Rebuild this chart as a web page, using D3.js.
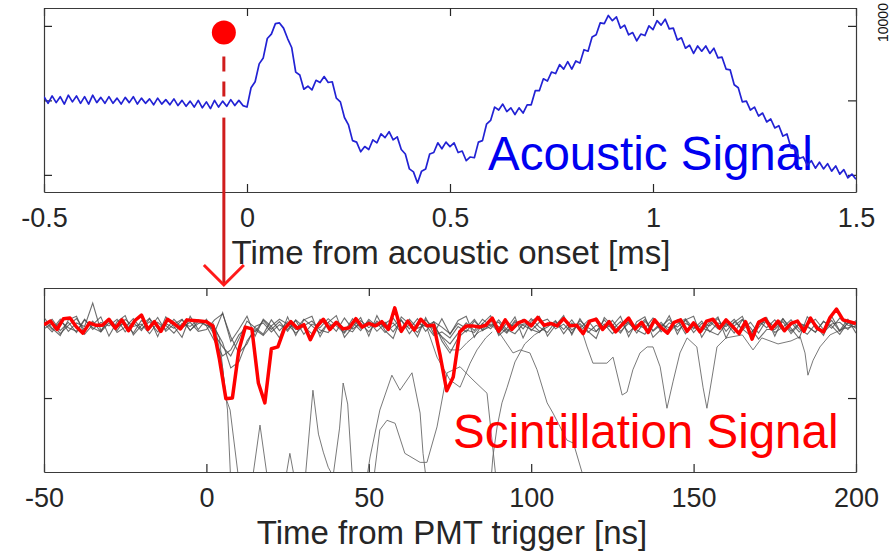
<!DOCTYPE html>
<html>
<head>
<meta charset="utf-8">
<script src="https://cdn.jsdelivr.net/npm/d3@7"></script>
<style>
body { margin: 0; background: #fff; }
text { font-family: "Liberation Sans", Arial, Helvetica, sans-serif; }
</style>
</head>
<body>
<div id="chart"></div>
<script>
// ---- top panel: acoustic signal, one value every 0.01 ms from -0.5 to 1.5 ms
const acousticStart = -0.5, acousticStep = 0.01;
const acoustic = [
  0.05,-0.04,0.06,-0.03,0.05,-0.05,0.07,-0.02,0.06,-0.04,
  0.05,-0.05,0.07,-0.03,0.04,-0.04,0.05,-0.04,0.03,-0.05,
  0.04,-0.03,0.05,-0.05,0.03,-0.04,0.02,-0.06,0.03,-0.05,
  0.01,-0.06,0.02,-0.07,0.0,-0.08,-0.01,-0.09,0.0,-0.10,
  -0.02,-0.11,0.0,-0.09,-0.01,-0.08,0.01,-0.07,0.0,-0.07,
  -0.09,0.17,0.25,0.49,0.57,0.83,0.89,1.03,1.04,0.97,
  0.83,0.71,0.38,0.34,0.15,0.19,0.14,0.27,0.24,0.32,
  0.24,0.25,0.03,-0.02,-0.23,-0.33,-0.54,-0.56,-0.69,-0.62,
  -0.66,-0.53,-0.57,-0.45,-0.50,-0.42,-0.53,-0.49,-0.66,-0.72,
  -0.92,-0.96,-1.11,-0.95,-0.92,-0.72,-0.70,-0.57,-0.65,-0.56,
  -0.62,-0.57,-0.70,-0.68,-0.81,-0.76,-0.77,-0.56,-0.54,-0.32,
  -0.27,-0.09,-0.13,-0.05,-0.15,-0.10,-0.19,-0.10,-0.17,-0.06,
  -0.06,0.13,0.13,0.29,0.26,0.38,0.36,0.48,0.42,0.52,
  0.42,0.53,0.50,0.68,0.66,0.85,0.88,1.04,1.03,1.14,
  1.07,1.12,0.97,1.01,0.88,0.91,0.80,0.89,0.87,1.00,
  0.95,1.07,1.01,1.09,0.96,0.97,0.81,0.84,0.70,0.74,
  0.63,0.73,0.66,0.73,0.63,0.70,0.57,0.58,0.42,0.41,
  0.21,0.17,-0.02,-0.01,-0.13,-0.09,-0.21,-0.17,-0.29,-0.25,
  -0.37,-0.34,-0.48,-0.45,-0.64,-0.65,-0.78,-0.76,-0.87,-0.81,
  -0.91,-0.83,-0.92,-0.85,-0.95,-0.88,-0.99,-0.93,-1.04,-0.99,-1.06
];
const topXTicks = [-0.5, 0, 0.5, 1, 1.5];
const topYTicks = [-1, 0, 1];
const onsetMarker = [-0.057, 0.91];   // red dot (time, level)

// ---- bottom panel: PMT traces
// red trace, one value every 2 ns from -50 to 200 ns
const redStart = -50, redStep = 2;
const redTrace = [
  -7.8,-7.2,-8.6,-6.8,-6.7,-8.2,-9.2,-7.5,-7.9,-7.9,
  -6.9,-8.4,-7.0,-8.8,-7.1,-6.2,-8.6,-7.3,-8.9,-6.9,
  -7.6,-8.5,-7.0,-7.1,-7.2,-7.3,
  -8.0,-13.5,-20.1,-20.0,-12.0,-8.2,-8.5,-17.5,-20.8,-11.8,
  -11.5,-8.5,-7.3,-8.4,-7.8,-10.3,-8.1,-6.9,-8.6,-7.4,
  -8.5,-8.3,-6.8,-8.2,-7.6,-8.0,-7.3,-8.6,-5.0,-8.9,
  -7.2,-8.7,-6.9,-8.0,-7.9,-13.0,-18.8,-16.5,-9.0,-8.0,
  -8.0,-8.2,-7.9,-6.7,-8.9,-7.0,-8.6,-7.5,-7.1,-8.0,
  -6.6,-7.9,-7.6,-8.0,-6.8,-8.0,-7.9,-9.3,-7.2,-6.9,
  -8.6,-7.3,-9.0,-7.8,-6.7,-8.5,-7.4,-9.1,-7.0,-8.3,
  -9.2,-7.4,-7.0,-8.9,-7.5,-9.0,-7.2,-6.9,-8.4,-7.0,
  -8.1,-9.3,-7.3,-10.2,-7.4,-6.8,-8.5,-7.2,-8.8,-7.6,
  -7.2,-8.9,-6.7,-8.4,-9.0,-6.6,-5.2,-7.0,-7.3,-7.6
];

// grey baseline traces, one value every 2.5 ns from -50 to 200 ns
const greyStart = -50, greyStep = 2.5;
const greyA = [
  -8.0,-6.9,-8.8,-7.4,-9.1,-7.0,-8.3,-9.0,-6.8,-8.2,
  -7.5,-9.2,-7.1,-8.4,-6.6,-8.9,-7.7,-6.9,-8.8,-7.2,
  -8.0,-10.5,-13.0,-12.0,-9.5,-8.2,-9.0,-7.1,-8.6,-7.3,
  -8.9,-7.0,-8.2,-9.3,-6.9,-8.1,-7.5,-9.0,-6.8,-8.4,
  -7.2,-8.9,-7.6,-6.7,-8.6,-7.9,-9.1,-7.0,-8.3,-9.8,
  -11.0,-9.2,-7.5,-8.8,-6.9,-8.0,-7.4,-9.0,-7.1,-8.5,
  -6.8,-8.2,-9.1,-7.3,-8.6,-7.0,-8.9,-7.6,-6.7,-8.4,
  -7.8,-9.2,-7.1,-8.3,-6.9,-8.8,-7.4,-9.0,-7.7,-6.8,
  -8.5,-7.2,-9.0,-7.5,-8.1,-6.9,-8.7,-7.4,-9.2,-7.0,
  -8.3,-6.8,-8.9,-7.6,-8.0,-9.1,-7.2,-8.4,-6.7,-7.9,-8.2
];
const greyB = [
  -7.2,-8.6,-6.9,-8.9,-7.5,-8.1,-4.2,-8.8,-7.0,-9.1,
  -8.2,-6.8,-8.5,-7.3,-9.0,-7.6,-8.4,-7.0,-8.7,-7.6,
  -7.4,-9.5,-11.5,-13.0,-10.2,-7.2,-8.3,-9.4,-7.0,-8.8,
  -7.3,-8.6,-6.9,-8.0,-9.2,-7.4,-8.9,-6.7,-8.5,-7.6,
  -9.0,-7.2,-8.3,-7.5,-9.1,-6.9,-8.4,-7.8,-9.6,-9.0,
  -10.0,-8.1,-9.0,-7.2,-8.6,-7.0,-9.3,-7.5,-8.2,-6.9,
  -8.8,-7.4,-6.9,-8.5,-7.7,-9.2,-7.1,-8.3,-9.0,-7.0,
  -8.6,-7.3,-9.1,-7.8,-8.4,-6.7,-9.0,-7.5,-8.2,-7.0,
  -9.1,-7.6,-8.0,-6.8,-8.9,-7.3,-8.5,-9.6,-7.2,-8.3,
  -7.0,-8.8,-7.4,-9.0,-7.8,-6.9,-8.6,-7.1,-8.9,-7.5,-8.4
];
const greyC = [
  -8.5,-7.6,-9.3,-7.9,-6.8,-8.7,-7.2,-9.0,-7.5,-8.8,
  -6.9,-8.1,-7.7,-9.3,-7.4,-8.6,-6.9,-8.3,-7.4,-8.9,
  -8.6,-7.0,-6.0,-9.8,-12.5,-11.0,-8.1,-7.5,-9.0,-7.8,
  -8.6,-7.1,-9.4,-7.7,-8.3,-6.8,-8.0,-9.2,-7.4,-8.8,
  -6.9,-8.1,-7.4,-9.0,-7.1,-8.5,-6.8,-8.9,-7.3,-8.2,
  -9.3,-7.6,-8.4,-6.9,-8.8,-7.7,-8.1,-9.2,-7.4,-7.9,
  -8.6,-9.1,-7.5,-8.0,-6.9,-8.7,-7.6,-9.1,-7.9,-8.5,
  -7.1,-8.9,-7.6,-8.7,-9.4,-7.2,-8.1,-6.9,-8.8,-7.6,
  -8.2,-9.0,-7.3,-8.5,-7.5,-9.2,-7.0,-8.3,-10.2,-8.6,
  -8.6,-7.3,-9.3,-7.7,-8.2,-9.0,-7.3,-8.0,-9.4,-7.4,-7.9
];
const greyD = [
  -7.6,-9.0,-7.2,-8.3,-8.9,-6.9,-8.6,-7.4,-8.0,-6.9,
  -9.0,-7.4,-8.8,-6.8,-8.3,-7.9,-9.2,-7.6,-8.1,-7.0,
  -7.9,-8.4,-10.8,-15.0,-14.0,-10.5,-8.6,-9.6,-8.0,-6.9,
  -7.7,-9.2,-8.0,-7.2,-8.7,-9.1,-7.3,-8.4,-9.0,-7.1,
  -8.3,-7.5,-9.1,-8.0,-7.0,-9.3,-7.6,-8.1,-7.3,-10.5,
  -12.5,-10.0,-8.7,-9.1,-7.6,-8.5,-7.0,-8.6,-9.3,-7.7,
  -7.6,-8.9,-8.2,-7.1,-9.3,-7.5,-8.4,-7.1,-8.9,-7.7,
  -9.3,-8.0,-7.4,-9.2,-7.2,-8.9,-7.8,-8.3,-7.0,-9.3,
  -7.6,-8.3,-8.9,-9.5,-7.7,-8.0,-6.9,-9.2,-7.8,-7.2,
  -9.1,-8.2,-7.0,-8.5,-9.4,-7.7,-9.1,-7.7,-7.4,-8.6,-7.1
];
const greyE = [
  -6.6,-8.4,-9.6,-7.0,-6.4,-9.4,-7.8,-6.5,-9.7,-7.3,
  -6.3,-9.5,-7.9,-6.7,-9.8,-6.5,-8.1,-9.9,-6.4,-8.6,
  -6.9,-9.1,-5.8,-10.6,-8.6,-6.4,-9.7,-6.9,-8.1,-10.0,
  -6.5,-9.6,-7.0,-6.4,-9.8,-7.4,-6.3,-9.9,-8.2,-6.6,
  -9.7,-6.3,-8.8,-10.1,-6.5,-7.7,-9.8,-6.6,-9.3,-6.8,
  -9.4,-7.1,-6.4,-9.9,-7.6,-6.3,-9.6,-8.4,-6.5,-10.0,
  -7.2,-6.4,-9.7,-7.9,-6.3,-9.5,-6.8,-8.9,-10.1,-6.6,
  -8.0,-6.4,-9.8,-7.3,-6.5,-9.9,-8.6,-6.3,-9.4,-7.0,
  -6.4,-9.9,-7.7,-6.5,-10.0,-7.4,-6.4,-9.6,-8.3,-6.6,
  -9.7,-6.8,-8.4,-10.1,-6.5,-7.9,-9.6,-6.4,-8.8,-6.9,-9.2
];

// grey traces with large excursions, as [time ns, level] pairs
const burstA = [[0,-7.8],[3,-9],[5,-15],[6.5,-22],[8,-40],[12,-42],[14.3,-33],[16.5,-24.5],[18.7,-33],
  [21,-40],[24.5,-33],[25.7,-29.2],[27,-33],[30,-36],[32.8,-18.7],[34.5,-26],[36,-29],[37.5,-31.5],
  [39,-33],[41,-25],[42.1,-17.5],[43.5,-21],[44.8,-32],[47,-38],[50,-40]];
const burstB = [[2,-7.5],[4,-10],[6,-20],[7.3,-22],[9.7,-32.5],[11,-38],[30,-42],[48,-38],[50.4,-29.8],
  [53.4,-22],[57.1,-16.2],[59.6,-18.7],[63.3,-15.8],[65.8,-22.5],[66.7,-29.2],[68,-35],[70,-40]];
const burstC = [[50,-40],[53.4,-25.3],[55.6,-23.7],[58.1,-24.2],[61.1,-29.2],[65.8,-30.7],[67.9,-30.7],
  [71,-24.8],[74.1,-15.8],[78.1,-14.8],[82.1,-17],[86.4,-19.2],[88.9,-32],[90,-38]];
const burstD = [[86,-45],[88.2,-29.8],[89.5,-24.8],[91,-20.8],[92.6,-18.2],[95,-14],[98,-11],[101,-9.5],[104,-8.5]];
const burstE = [[88,-8],[90,-9],[94.4,-12.5],[96.6,-12],[99.6,-12.5],[101.8,-15.3],[104.9,-20.8],
  [106.7,-22.5],[108.9,-24.8],[111,-27],[113,-27.5],[116,-33],[118,-38]];
const burstF = [[68,-8],[71,-8.7],[75,-12],[78.1,-12],[80.2,-10.8],[84,-9],[88,-8]];
const burstG = [[68,-8.5],[71,-13.2],[75,-17],[78.1,-18.2],[81.2,-14.2],[83.3,-12],[86,-10],[88,-9]];
const burstH = [[115,-7.8],[117.2,-11.5],[119,-14.2],[123.3,-14.2],[125.2,-13.2],[128,-19.5],[129.5,-19],
  [131.3,-15.3],[133.5,-12.5],[135.7,-11.5],[137.5,-11.5],[139.7,-14.8],[141.8,-21.7],[143.7,-17.2],
  [145.8,-12.5],[148,-10],[151,-11.5],[152.9,-18.2],[154.1,-21.7],[155.7,-16.5],[157.2,-11.5],[160,-10],
  [165,-9.5],[168.3,-12],[171,-10],[176,-11],[180,-10.5],[182.8,-9.8],[184.3,-12.5],[185.2,-16.2],
  [186.8,-13.7],[188.9,-11.5],[192,-9.5],[196,-8.5],[200,-8]];

const botXTicks = [-50, 0, 50, 100, 150, 200];
const botYTicks = [-20];

// ---- layout
const W = 892, H = 555;
const svg = d3.select("#chart").append("svg")
    .attr("width", W)
    .attr("height", H);

const xTop = d3.scaleLinear().domain([-0.5, 1.5]).range([44, 856]);
const yTop = d3.scaleLinear().domain([-1.23, 1.24]).range([192, 8]);
const xBot = d3.scaleLinear().domain([-50, 200]).range([44, 856]);
const yBot = d3.scaleLinear().domain([-32.3, -1.7]).range([472, 288]);

const axisColor = "#262626";

function frame(id, x, y, xTicks, yTicks) {
  const [x0, x1] = x.range();
  const [y0, y1] = y.range();   // bottom, top
  svg.append("clipPath").attr("id", id)
    .append("rect").attr("x", x0).attr("y", y1).attr("width", x1 - x0).attr("height", y0 - y1);

  const fmt = d => String(d);
  const axes = [
    [d3.axisBottom(x).tickValues(xTicks).tickFormat(fmt), `translate(0,${y0})`],
    [d3.axisTop(x).tickValues(xTicks).tickFormat(""), `translate(0,${y1})`],
    [d3.axisLeft(y).tickValues(yTicks).tickFormat(""), `translate(${x0},0)`],
    [d3.axisRight(y).tickValues(yTicks).tickFormat(""), `translate(${x1},0)`]
  ];
  axes.forEach(([ax, tr]) => {
    const g = svg.append("g").attr("transform", tr)
      .call(ax.tickSizeInner(-8).tickSizeOuter(0).tickPadding(16));
    g.select(".domain").attr("stroke", "#3a3a3a").attr("stroke-width", 1.2);
    g.selectAll(".tick line").attr("stroke", axisColor).attr("stroke-width", 1.2);
    g.selectAll("text").attr("font-size", 27).attr("fill", axisColor);
  });
}

frame("clipTop", xTop, yTop, topXTicks, topYTicks);
frame("clipBot", xBot, yBot, botXTicks, botYTicks);

// axis titles
svg.append("text").attr("x", 451).attr("y", 264).attr("text-anchor", "middle")
  .attr("font-size", 33).attr("fill", axisColor).text("Time from acoustic onset [ms]");
svg.append("text").attr("x", 452).attr("y", 544).attr("text-anchor", "middle")
  .attr("font-size", 33).attr("fill", axisColor).text("Time from PMT trigger [ns]");

// label at the right edge
svg.append("text").attr("transform", "translate(888,42) rotate(-90)")
  .attr("font-size", 14).attr("fill", "#111").text("10000");

// ---- top panel content
svg.append("text").attr("x", 488).attr("y", 170)
  .attr("font-size", 47.5).attr("fill", "#0000f0").text("Acoustic Signal");

const acousticPts = acoustic.map((v, i) => [acousticStart + i * acousticStep, v]);
const lineTop = d3.line().x(d => xTop(d[0])).y(d => yTop(d[1]));
svg.append("path")
  .attr("clip-path", "url(#clipTop)")
  .attr("d", lineTop(acousticPts))
  .attr("fill", "none")
  .attr("stroke", "#2222d4")
  .attr("stroke-width", 1.7)
  .attr("stroke-linejoin", "round");

// ---- bottom panel content
const lineBot = d3.line().x(d => xBot(d[0])).y(d => yBot(d[1]));
const gBot = svg.append("g").attr("clip-path", "url(#clipBot)");

[burstA, burstB, burstC, burstD, burstE, burstF, burstG, burstH].forEach(tr => {
  gBot.append("path").attr("d", lineBot(tr))
    .attr("fill", "none").attr("stroke", "#6a6a6a").attr("stroke-width", 0.9);
});
[greyE, greyA, greyB, greyC, greyD].forEach(tr => {
  const pts = tr.map((v, i) => [greyStart + i * greyStep, v]);
  gBot.append("path").attr("d", lineBot(pts))
    .attr("fill", "none").attr("stroke", "#4a4a4a").attr("stroke-width", 1.1)
    .attr("stroke-opacity", 0.8);
});
const redPts = redTrace.map((v, i) => [redStart + i * redStep, v]);
gBot.append("path").attr("d", lineBot(redPts))
  .attr("fill", "none").attr("stroke", "#ff0000").attr("stroke-width", 3.5)
  .attr("stroke-linejoin", "round");

svg.append("text").attr("x", 453).attr("y", 448)
  .attr("font-size", 47.5).attr("fill", "#ff0000").text("Scintillation Signal");

// ---- onset marker and arrow linking the panels
const mx = xTop(onsetMarker[0]);
const my = yTop(onsetMarker[1]);
svg.append("line").attr("x1", mx).attr("x2", mx).attr("y1", my + 24).attr("y2", my + 67)
  .attr("stroke", "#d01c1c").attr("stroke-width", 3).attr("stroke-dasharray", "15,10");
const tipY = yBot.range()[1] - 3;
svg.append("line").attr("x1", mx).attr("x2", mx).attr("y1", my + 85).attr("y2", tipY)
  .attr("stroke", "#d01c1c").attr("stroke-width", 3);
svg.append("path")
  .attr("d", `M${mx - 20},${tipY - 20}L${mx},${tipY}L${mx + 20},${tipY - 20}`)
  .attr("fill", "none").attr("stroke", "#ff1a1a").attr("stroke-width", 3);
svg.append("circle").attr("cx", mx).attr("cy", my).attr("r", 12).attr("fill", "#ff0000");
</script>
</body>
</html>
